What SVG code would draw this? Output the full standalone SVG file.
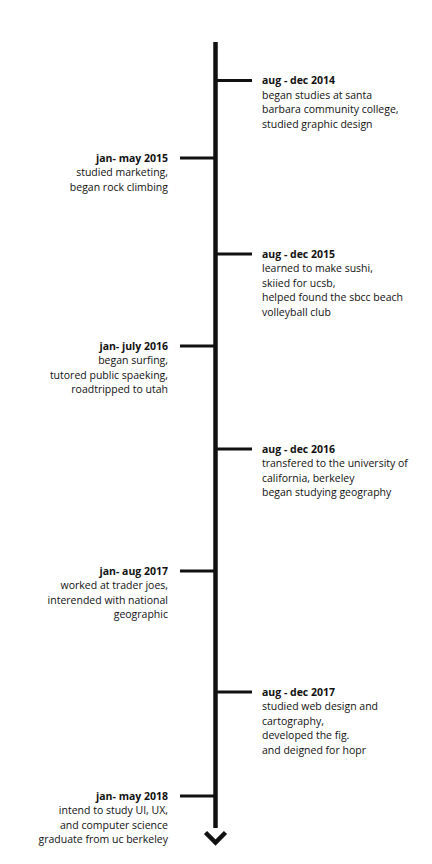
<svg xmlns="http://www.w3.org/2000/svg" width="432" height="864" viewBox="0 0 432 864">
<style>
  .ln { stroke: #111; fill: none; }
  .tick { stroke: #111; stroke-width: 3; }
  text { font-family: "Open Sans", "Noto Sans", sans-serif; font-size: 10.5px; fill: #111; }
  .h { font-weight: bold; }
  .l { text-anchor: end; }
</style>
<rect width="432" height="864" fill="#fff"/>
<g id="connectors">
  <line class="ln" x1="215.5" y1="42" x2="215.5" y2="828" stroke-width="4.5"/>
  <polyline class="ln" points="205.5,832.5 215.5,842.5 225.5,832.5" stroke-width="4.5"/>
</g>
<g id="n1">
  <line class="tick" x1="217" y1="80.5" x2="252" y2="80.5"/>
  <text x="262" y="84" class="h">aug - dec 2014</text>
  <text x="262" y="98.5">began studies at santa</text>
  <text x="262" y="113">barbara community college,</text>
  <text x="262" y="127.5">studied graphic design</text>
</g>
<g id="n2">
  <line class="tick" x1="180" y1="158" x2="214" y2="158"/>
  <text x="168" y="161.5" class="h l">jan- may 2015</text>
  <text x="168" y="176" class="l">studied marketing,</text>
  <text x="168" y="190.5" class="l">began rock climbing</text>
</g>
<g id="n3">
  <line class="tick" x1="217" y1="254" x2="252" y2="254"/>
  <text x="262" y="257.5" class="h">aug - dec 2015</text>
  <text x="262" y="272">learned to make sushi,</text>
  <text x="262" y="286.5">skiied for ucsb,</text>
  <text x="262" y="301">helped found the sbcc beach</text>
  <text x="262" y="315.5">volleyball club</text>
</g>
<g id="n4">
  <line class="tick" x1="180" y1="346" x2="214" y2="346"/>
  <text x="168" y="349.5" class="h l">jan- july 2016</text>
  <text x="168" y="364" class="l">began surfing,</text>
  <text x="168" y="378.5" class="l">tutored public spaeking,</text>
  <text x="168" y="393" class="l">roadtripped to utah</text>
</g>
<g id="n5">
  <line class="tick" x1="217" y1="449" x2="252" y2="449"/>
  <text x="262" y="452.5" class="h">aug - dec 2016</text>
  <text x="262" y="467">transfered to the university of</text>
  <text x="262" y="481.5">california, berkeley</text>
  <text x="262" y="496">began studying geography</text>
</g>
<g id="n6">
  <line class="tick" x1="180" y1="571" x2="214" y2="571"/>
  <text x="168" y="574.5" class="h l">jan- aug 2017</text>
  <text x="168" y="589" class="l">worked at trader joes,</text>
  <text x="168" y="603.5" class="l">interended with national</text>
  <text x="168" y="618" class="l">geographic</text>
</g>
<g id="n7">
  <line class="tick" x1="217" y1="692" x2="252" y2="692"/>
  <text x="262" y="695.5" class="h">aug - dec 2017</text>
  <text x="262" y="710">studied web design and</text>
  <text x="262" y="724.5">cartography,</text>
  <text x="262" y="739">developed the fig.</text>
  <text x="262" y="753.5">and deigned for hopr</text>
</g>
<g id="n8">
  <line class="tick" x1="180" y1="796" x2="214" y2="796"/>
  <text x="168" y="799.5" class="h l">jan- may 2018</text>
  <text x="168" y="814" class="l">intend to study UI, UX,</text>
  <text x="168" y="828.5" class="l">and computer science</text>
  <text x="168" y="843" class="l">graduate from uc berkeley</text>
</g>
</svg>
